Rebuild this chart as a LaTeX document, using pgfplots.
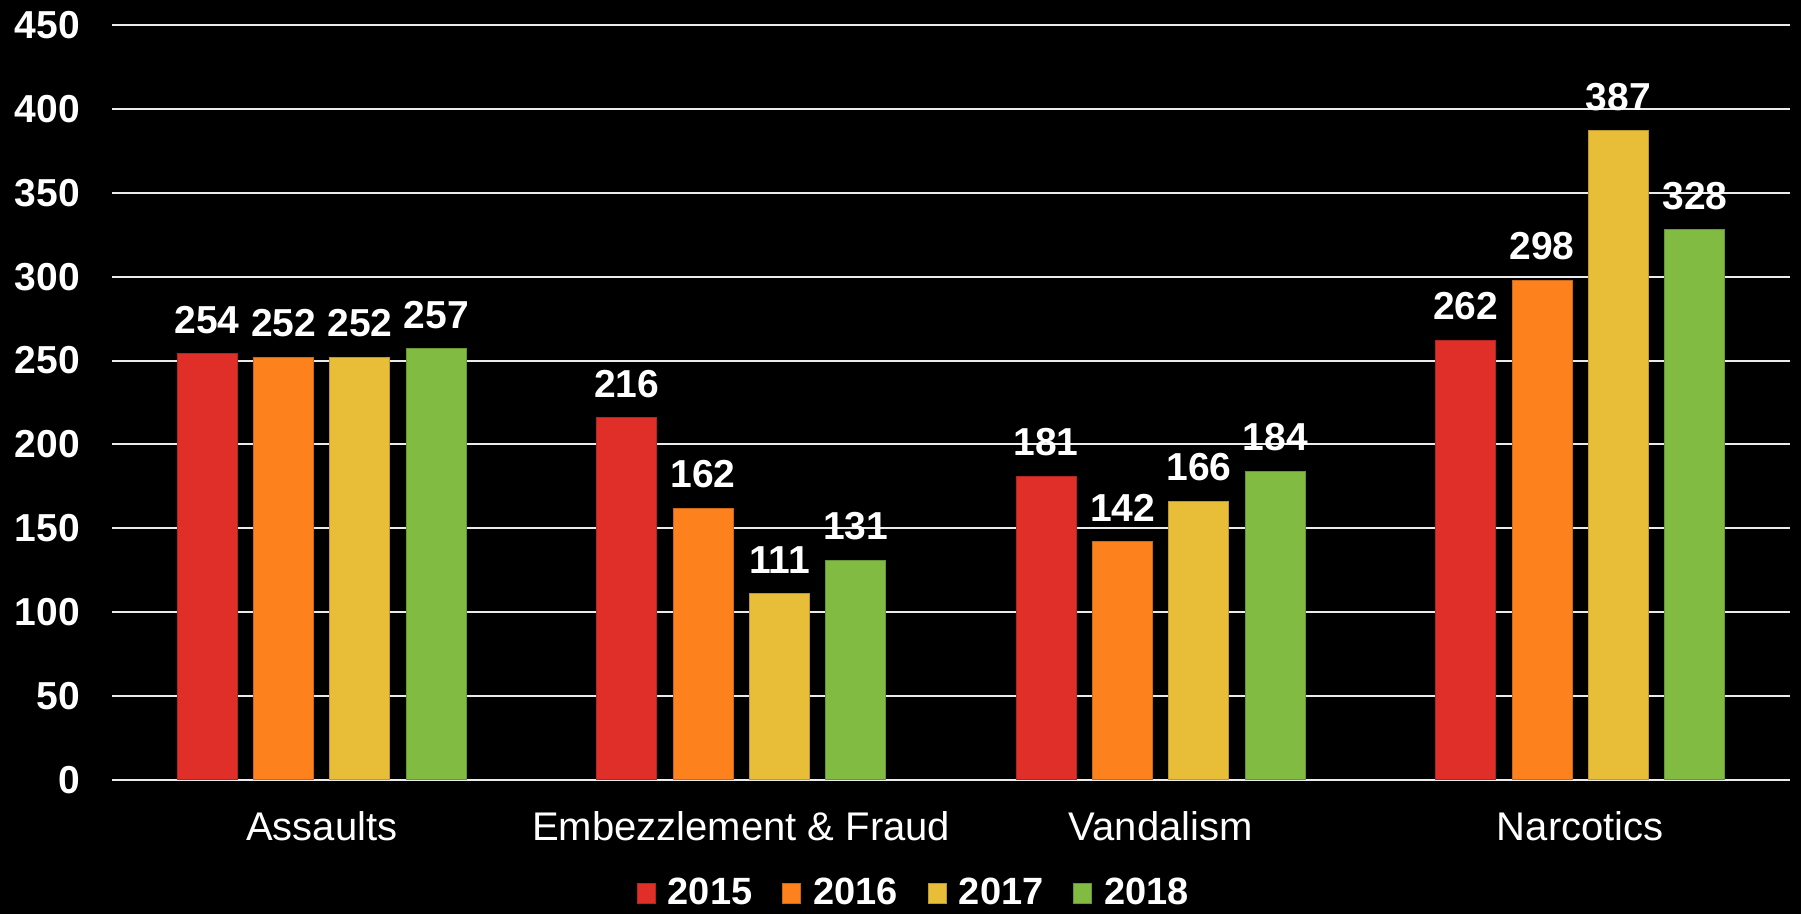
\documentclass[border=0pt]{standalone}
\usepackage{pgfplots}
\pgfplotsset{compat=1.18}
\usepackage{fontspec}
\setmainfont{Liberation Sans}
\definecolor{c15}{RGB}{224,46,40}
\definecolor{c16}{RGB}{253,130,30}
\definecolor{c17}{RGB}{232,190,56}
\definecolor{c18}{RGB}{130,187,66}
\begin{document}
\begin{tikzpicture}
\fill[black] (-56pt,-67pt) rectangle (844.5pt,390pt);
\begin{axis}[
  at={(0,0)}, anchor=south west,
  scale only axis, width=839pt, height=377.5pt,
  ybar=8.2pt, bar width=30pt,
  xmin=-0.5, xmax=3.5, ymin=0, ymax=450,
  enlargelimits=false,
  xtick={0,1,2,3},
  xticklabels={Assaults, Embezzlement \& Fraud, Vandalism, Narcotics},
  ytick={0,50,...,450},
  axis line style={draw=none},
  major tick style={draw=none},
  ymajorgrids, grid style={white!92!black, line width=1pt},
  /pgf/number format/assume math mode=true,
  yticklabel style={font=\fontsize{19.5}{22}\selectfont\bfseries, text=white, xshift=-12.5pt},
  xticklabel style={font=\fontsize{20}{24}\selectfont, text=white, yshift=-8pt},
  nodes near coords,
  every node near coord/.append style={font=\fontsize{19.5}{22}\selectfont\bfseries, text=white, yshift=6.5pt},
  legend columns=4,
  legend style={at={(0.4785,-0.1497)}, anchor=center, draw=none, fill=none,
    text=white, font=\fontsize{19}{22}\selectfont\bfseries,
    /tikz/every odd column/.append style={column sep=4pt},
    /tikz/every even column/.append style={column sep=13pt}},
  legend image code/.code={\fill[#1] (0pt,-5pt) rectangle (9pt,5pt);},
]
\addplot[fill=c15, draw=c15!80!black, line width=0.5pt] coordinates {(0,254) (1,216) (2,181) (3,262)};
\addplot[fill=c16, draw=c16!80!black, line width=0.5pt] coordinates {(0,252) (1,162) (2,142) (3,298)};
\addplot[fill=c17, draw=c17!80!black, line width=0.5pt] coordinates {(0,252) (1,111) (2,166) (3,387)};
\addplot[fill=c18, draw=c18!80!black, line width=0.5pt] coordinates {(0,257) (1,131) (2,184) (3,328)};
\legend{2015,2016,2017,2018}
\end{axis}
\pgfresetboundingbox
\useasboundingbox (-56pt,-67pt) rectangle (844.5pt,390pt);
\end{tikzpicture}
\end{document}
